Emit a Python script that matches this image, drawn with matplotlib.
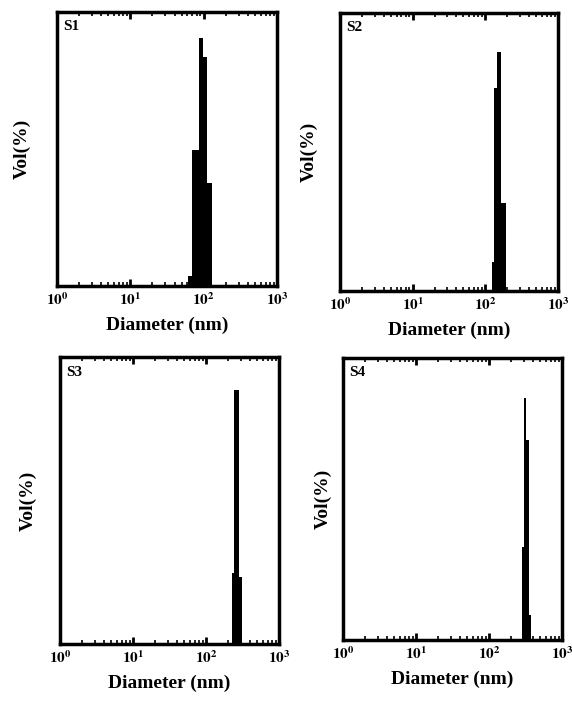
import matplotlib
matplotlib.use("Agg")
import matplotlib.pyplot as plt

plt.rcParams["font.family"] = ["Liberation Serif", "DejaVu Serif"]
plt.rcParams["font.weight"] = "bold"
plt.rcParams["mathtext.fontset"] = "stix"

# bin edges (nm) and volume (%)
s1_edges = [61, 70, 85, 97, 110, 129]
s1_vol = [3.6, 49.6, 90.5, 83.6, 37.6]
s2_edges = [124, 131, 146, 162, 192]
s2_vol = [10.5, 72.9, 86.0, 31.8]
s3_edges = [225, 244, 286, 308]
s3_vol = [24.7, 88.5, 23.5]
s4_edges = [280, 305, 321, 350, 376]
s4_vol = [33.0, 85.7, 71.0, 8.9]

labels = ["S1", "S2", "S3", "S4"]
# axes rects in figure fraction, y-label pads
rects = [
    (0.0997, 0.592, 0.3846, 0.391),
    (0.5944, 0.585, 0.381, 0.3966),
    (0.1049, 0.0813, 0.383, 0.4094),
    (0.5997, 0.087, 0.383, 0.4023),
]
ypads = [19, 16, 17, 8]

fig = plt.figure(figsize=(5.72, 7.01), dpi=100)
data = [(s1_edges, s1_vol), (s2_edges, s2_vol), (s3_edges, s3_vol), (s4_edges, s4_vol)]
for (edges, vol), lab, r, yp in zip(data, labels, rects, ypads):
    ax = fig.add_axes(r)
    ax.stairs(vol, edges, fill=True, color="black")
    ax.set_xscale("log")
    ax.set_xlim(1, 1000)
    ax.set_ylim(0, 100)
    ax.set_xticks([1, 10, 100, 1000])
    ax.set_xticklabels([r"$\mathbf{10^{%d}}$" % i for i in range(4)], fontsize=11)
    ax.set_yticks([])
    ax.tick_params(axis="x", which="major", direction="in", length=5, width=2,
                   top=True, pad=4)
    ax.tick_params(axis="x", which="minor", direction="in", length=3, width=1.2, top=True)
    for sp in ax.spines.values():
        sp.set_linewidth(2.5)
    ax.set_xlabel("Diameter (nm)", fontsize=14, fontweight="bold", labelpad=6)
    ax.set_ylabel("Vol(%)", fontsize=14, fontweight="bold", labelpad=yp)
    ax.text(0.03, 0.97, lab, transform=ax.transAxes, ha="left", va="top",
            fontsize=11, fontweight="bold")

fig.savefig("out.png", dpi=100)
